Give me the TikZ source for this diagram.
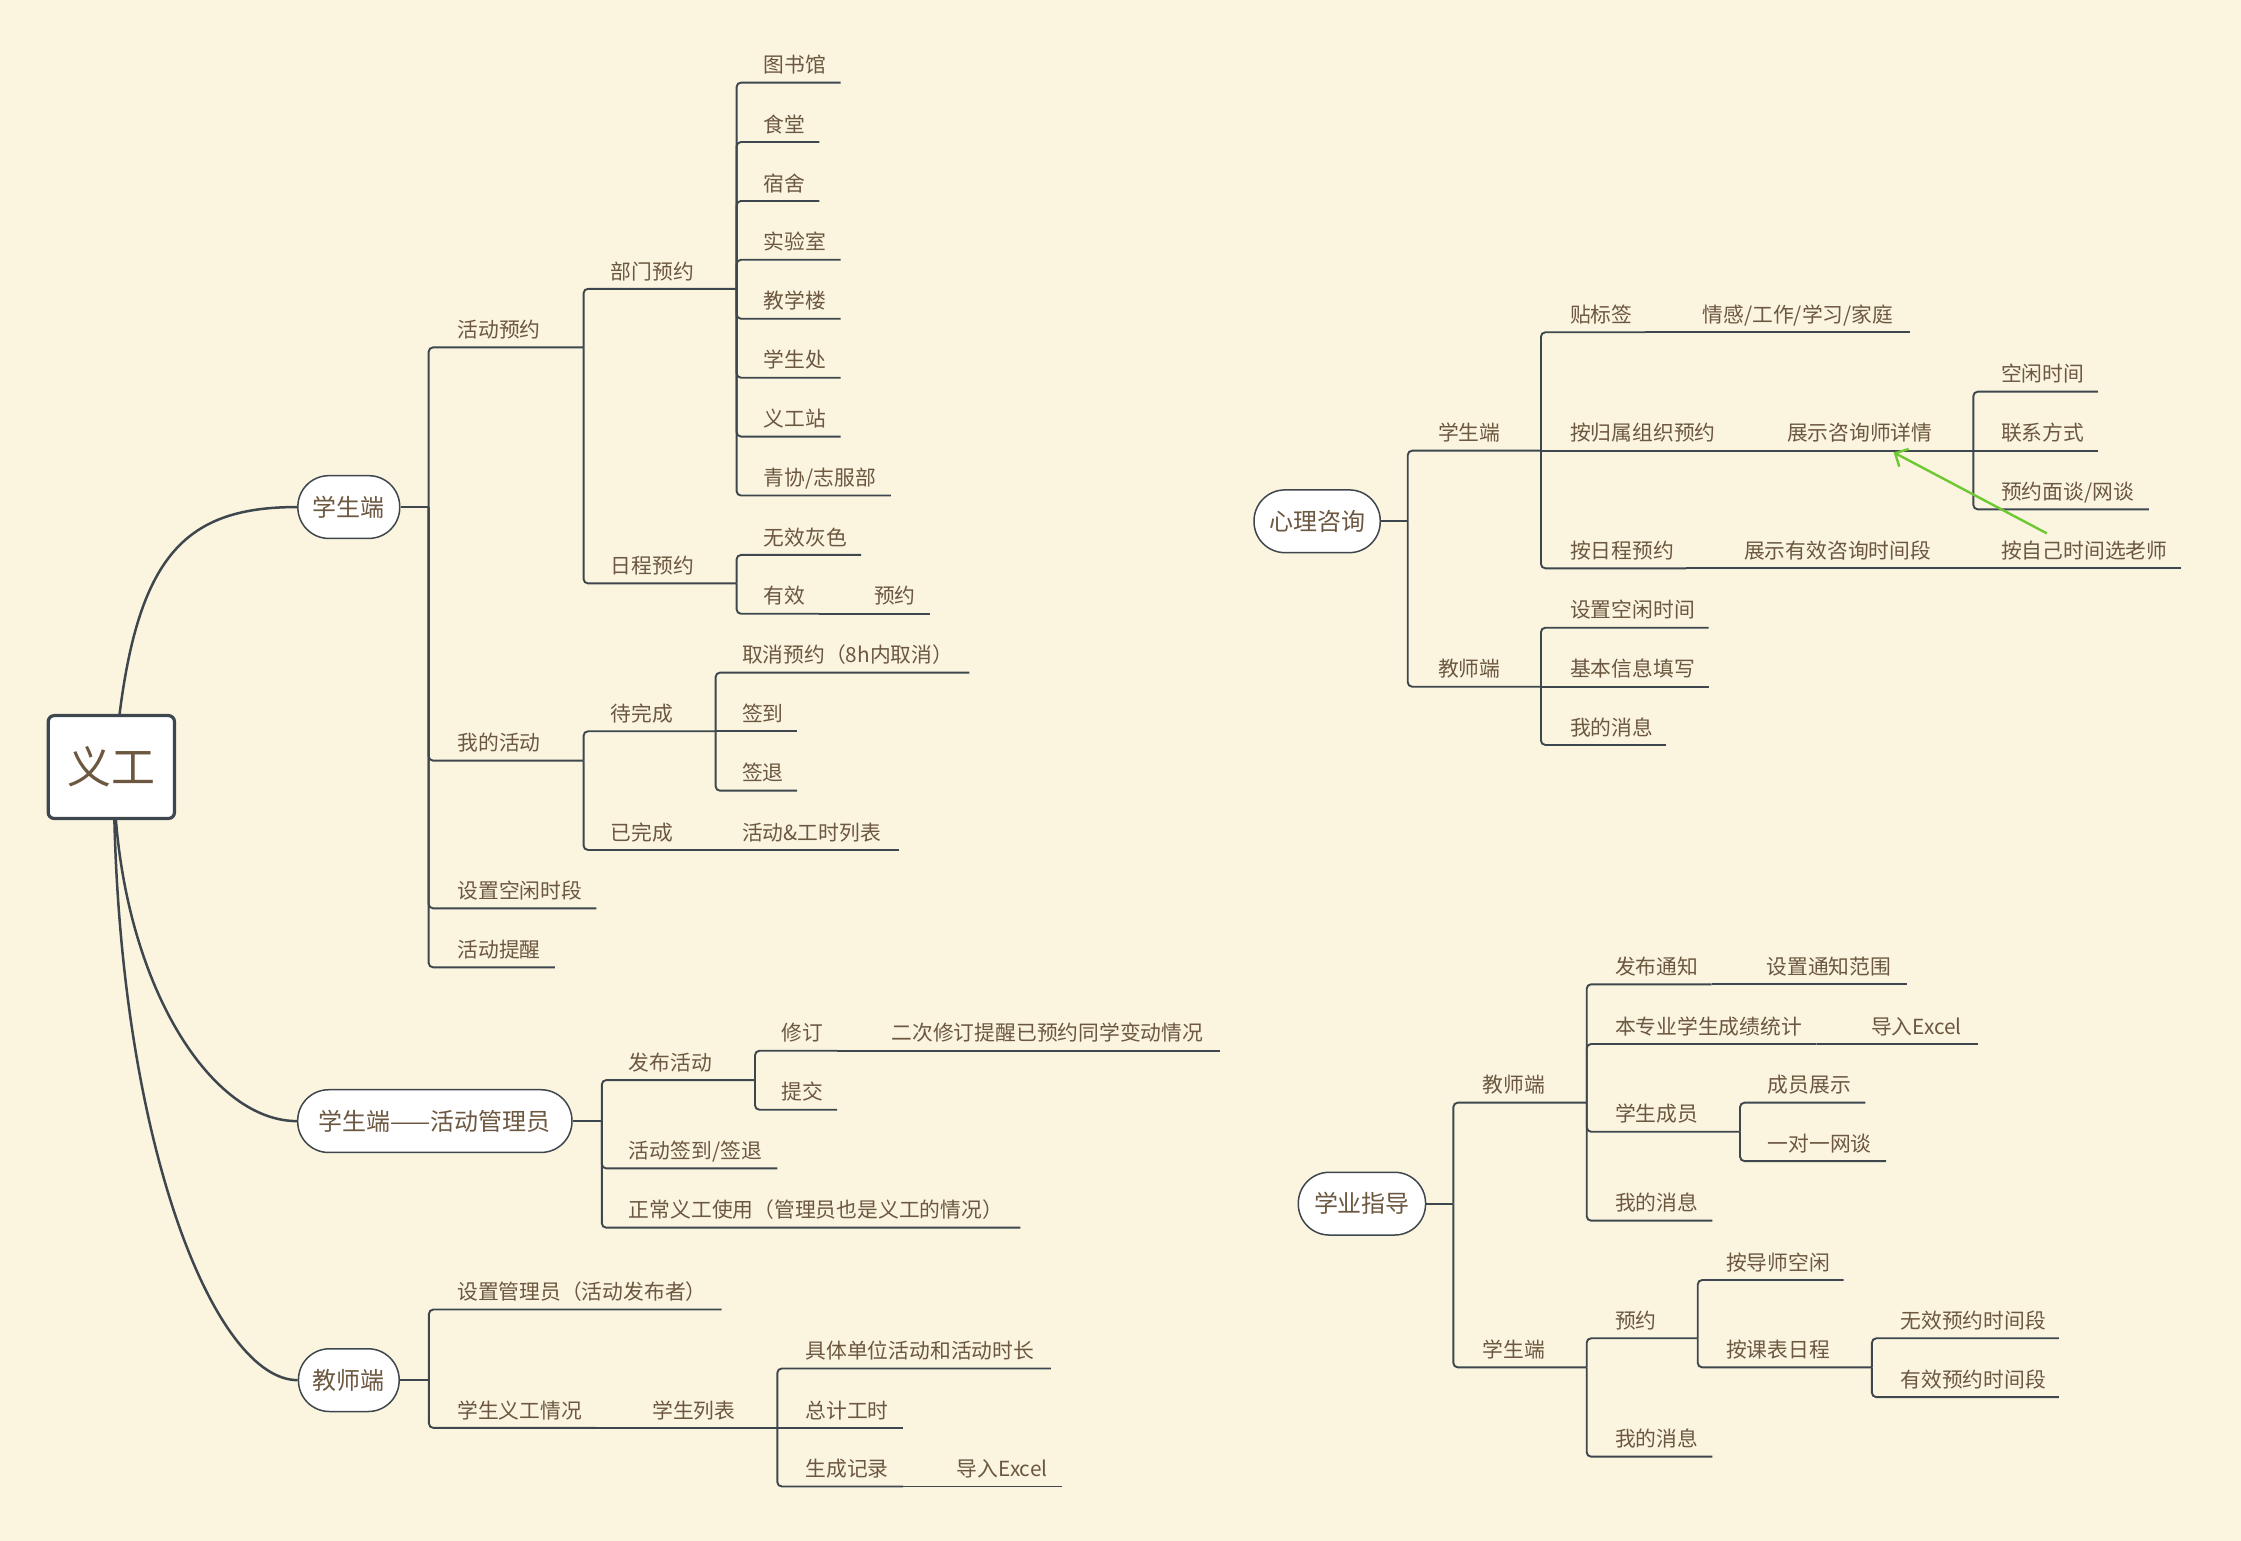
\documentclass[tikz,border=0pt]{standalone}
\usepackage{fontspec}
\setmainfont{Noto Sans CJK SC}
\usetikzlibrary{arrows.meta}
\definecolor{bg}{RGB}{251,245,223}
\definecolor{txt}{RGB}{108,87,64}
\definecolor{ln}{RGB}{62,70,78}
\definecolor{arrgreen}{RGB}{110,200,50}
% #1 name, #2 spine x, #3 parent y, #4 own y, #5 line end x, #6 text left x, #7 text
\newcommand\tp[7]{\draw[conn] (#2,#3) -- (#2,#4) -- (#5,#4); \node[lbl] (#1) at (#6,#4-12.3) {#7};}
% #1 name, #2 start x, #3 y, #4 end x, #5 text left x, #6 text
\newcommand\ch[6]{\draw[conn] (#2,#3) -- (#4,#3); \node[lbl] (#1) at (#5,#3-12.3) {#6};}
\begin{document}
\begin{tikzpicture}[x=0.72pt,y=-0.72pt,
 conn/.style={draw=ln, line width=0.95pt, rounded corners=2.2pt},
 lbl/.style={anchor=west, inner sep=0pt, text=txt, font=\fontsize{10.4pt}{12pt}\selectfont, text height=9.15pt, text depth=1.25pt},
 pill/.style={draw=ln, line width=0.75pt, fill=white, rounded corners=15.5pt, minimum height=31.4pt, inner sep=0pt, text=txt, font=\fontsize{12pt}{14pt}\selectfont, text height=10.56pt, text depth=1.44pt},
 rootbox/.style={draw=ln, line width=1.6pt, fill=white, rounded corners=3pt, minimum width=63.2pt, minimum height=51.5pt, inner sep=0pt, text=txt, font=\fontsize{22pt}{26pt}\selectfont, text height=19.36pt, text depth=2.64pt},
 rootcurve/.style={draw=ln, line width=1.25pt},
 hint/.style={draw=arrgreen, line width=1.2pt, -{Straight Barb[length=5pt,width=10pt,line width=1.2pt]}}]
\useasboundingbox[fill=bg] (0,0) rectangle (1558,1071.3);

% ---------- root and main branches ----------
\node[rootbox] (root) at (77.4,533.25) {义工};
\node[pill, minimum width=51pt] (s1) at (242.5,352.5) {学生端};
\node[pill, minimum width=137.3pt] (s2) at (302.3,779.4) {学生端——活动管理员};
\node[pill, minimum width=50.4pt] (s3) at (242.5,959.5) {教师端};
\coordinate (rt) at (83,497.5);
\coordinate (rb1) at (80.5,569);
\coordinate (rb2) at (79.5,569);
\draw[rootcurve] (rt) .. controls (97,385) and (130,352.5) .. (s1.west);
\draw[rootcurve] (rb1) .. controls (90,690) and (148,779.4) .. (s2.west);
\draw[rootcurve] (rb2) .. controls (85,800) and (150,959.5) .. (s3.west);

% ---------- 学生端 ----------
\draw[conn] (s1.east) -- (298,352.5);
\tp{a1}{298}{352.5}{241.5}{405.7}{317.9}{活动预约}
\tp{a2}{298}{352.5}{528.8}{405.7}{317.9}{我的活动}
\tp{a3}{298}{352.5}{631.5}{414.6}{317.9}{设置空闲时段}
\tp{a4}{298}{352.5}{672.5}{385.7}{317.9}{活动提醒}

\tp{b1}{405.7}{241.5}{200.8}{512.1}{424.3}{部门预约}
\tp{b2}{405.7}{241.5}{405.6}{512.1}{424.3}{日程预约}

\tp{c1}{512.1}{200.8}{57.4}{584.4}{530.7}{图书馆}
\tp{c2}{512.1}{200.8}{98.7}{569.7}{530.7}{食堂}
\tp{c3}{512.1}{200.8}{139.7}{569.7}{530.7}{宿舍}
\tp{c4}{512.1}{200.8}{180.6}{584.4}{530.7}{实验室}
\tp{c5}{512.1}{200.8}{221.6}{584.4}{530.7}{教学楼}
\tp{c6}{512.1}{200.8}{262.6}{584.4}{530.7}{学生处}
\tp{c7}{512.1}{200.8}{303.5}{584.4}{530.7}{义工站}
\tp{c8}{512.1}{200.8}{344.5}{619.4}{530.7}{青协/志服部}

\tp{d1}{512.1}{405.6}{385.8}{598.6}{530.7}{无效灰色}
\tp{d2}{512.1}{405.6}{426.7}{569.7}{530.7}{有效}
\ch{d3}{569.7}{426.7}{646.4}{607.4}{预约}

\tp{e1}{405.7}{528.8}{508.4}{497.5}{424.3}{待完成}
\tp{e2}{405.7}{528.8}{590.9}{477.5}{424.3}{已完成}
\ch{e3}{477.5}{590.9}{625.2}{515.6}{活动\&工时列表}

\tp{f1}{497.5}{508.4}{467.6}{673.9}{515.6}{取消预约（8h内取消）}
\ch{f2}{497.5}{508.4}{554.2}{515.6}{签到}
\tp{f3}{497.5}{508.4}{549.7}{554.2}{515.6}{签退}

% ---------- 学生端——活动管理员 ----------
\draw[conn] (s2.east) -- (418.4,779.4);
\tp{g1}{418.4}{779.4}{750.9}{524.9}{437}{发布活动}
\tp{g2}{418.4}{779.4}{812.3}{540.4}{437}{活动签到/签退}
\tp{g3}{418.4}{779.4}{853.5}{709.4}{437}{正常义工使用（管理员也是义工的情况）}
\tp{h1}{524.9}{750.9}{730.5}{582}{543}{修订}
\ch{h2}{582}{730.5}{848}{619.6}{二次修订提醒已预约同学变动情况}
\tp{h3}{524.9}{750.9}{771.5}{582}{543}{提交}

% ---------- 教师端 ----------
\draw[conn] (s3.east) -- (298.2,959.5);
\tp{k1}{298.2}{959.5}{910.4}{501.6}{317.6}{设置管理员（活动发布者）}
\tp{k2}{298.2}{959.5}{992.7}{414.6}{317.6}{学生义工情况}
\ch{k3}{414.6}{992.7}{540.4}{453.3}{学生列表}
\tp{m1}{540.4}{992.7}{951.4}{730.5}{559.8}{具体单位活动和活动时长}
\ch{m2}{540.4}{992.7}{627.9}{559.8}{总计工时}
\tp{m3}{540.4}{992.7}{1033.4}{627.9}{559.8}{生成记录}
\ch{m4}{627.9}{1033.4}{738.2}{665}{导入Excel}

% ---------- 心理咨询 ----------
\node[pill, minimum width=63.2pt] (p0) at (915.7,362.4) {心理咨询};
\draw[conn] (p0.east) -- (978.7,362.4);
\tp{p1}{978.7}{362.4}{313.3}{1071.3}{999.5}{学生端}
\tp{p2}{978.7}{362.4}{477.4}{1071.3}{999.5}{教师端}
\tp{r1}{1071.3}{313.3}{231}{1143.6}{1091.3}{贴标签}
\ch{r2}{1143.6}{231}{1327.6}{1183.5}{情感/工作/学习/家庭}
\ch{r3}{1071.3}{313.3}{1202.6}{1091.3}{按归属组织预约}
\ch{r4}{1202.6}{313.3}{1371.9}{1242.1}{展示咨询师详情}
\tp{r5}{1071.3}{313.3}{395.1}{1172.4}{1091.3}{按日程预约}
\ch{r6}{1172.4}{395.1}{1352}{1212.3}{展示有效咨询时间段}
\ch{r7}{1352}{395.1}{1516}{1391}{按自己时间选老师}
\tp{t1}{1371.9}{313.3}{272.3}{1458.4}{1391}{空闲时间}
\ch{t2}{1371.9}{313.3}{1458.4}{1391}{联系方式}
\tp{t3}{1371.9}{313.3}{354.1}{1493.9}{1391}{预约面谈/网谈}
\tp{u1}{1071.3}{477.4}{436.4}{1187.9}{1091.3}{设置空闲时间}
\ch{u2}{1071.3}{477.4}{1187.9}{1091.3}{基本信息填写}
\tp{u3}{1071.3}{477.4}{517.9}{1158.2}{1091.3}{我的消息}
\coordinate (gs) at (1423,370.8);
\coordinate (ge) at (1316.5,314.5);
\draw[hint] (gs) -- (ge);

% ---------- 学业指导 ----------
\node[pill, minimum width=63.7pt] (q0) at (946.85,836.8) {学业指导};
\draw[conn] (q0.east) -- (1010.4,836.8);
\tp{q1}{1010.4}{836.8}{766.6}{1103.1}{1030.4}{教师端}
\tp{q2}{1010.4}{836.8}{950.6}{1103.1}{1030.4}{学生端}
\tp{v1}{1103.1}{766.6}{684.3}{1190}{1122.5}{发布通知}
\ch{v2}{1190}{684.3}{1325.8}{1227.9}{设置通知范围}
\tp{v3}{1103.1}{766.6}{725.8}{1263}{1122.5}{本专业学生成绩统计}
\ch{v4}{1263}{725.8}{1374.9}{1300.6}{导入Excel}
\tp{v5}{1103.1}{766.6}{786.8}{1209.7}{1122.5}{学生成员}
\tp{v6}{1103.1}{766.6}{848.6}{1190.5}{1122.5}{我的消息}
\tp{w1}{1209.7}{786.8}{766.6}{1296.9}{1228.7}{成员展示}
\tp{w2}{1209.7}{786.8}{807.2}{1311.2}{1228.7}{一对一网谈}
\tp{x1}{1103.1}{950.6}{930.4}{1180.3}{1122.5}{预约}
\tp{x2}{1103.1}{950.6}{1012.7}{1190.5}{1122.5}{我的消息}
\tp{y1}{1180.3}{930.4}{889.9}{1281.8}{1199.7}{按导师空闲}
\tp{y2}{1180.3}{930.4}{950.6}{1301.4}{1199.7}{按课表日程}
\tp{z1}{1301.4}{950.6}{930.4}{1431.4}{1321}{无效预约时间段}
\tp{z2}{1301.4}{950.6}{971.3}{1431.4}{1321}{有效预约时间段}
\end{tikzpicture}
\end{document}
